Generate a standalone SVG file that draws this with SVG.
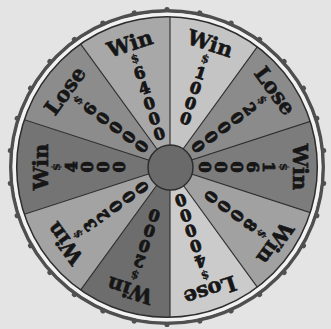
<svg xmlns="http://www.w3.org/2000/svg" xmlns:xlink="http://www.w3.org/1999/xlink" width="331" height="329" viewBox="0 0 331 329">
<defs>
<style>
.lbl{font-family:"DejaVu Serif","Liberation Serif",serif;font-weight:bold;fill:#161616;stroke:#161616;stroke-width:0.6;text-anchor:middle}
.w{font-size:21px}
.d{font-size:11.5px;stroke-width:0.3}
.n{font-size:16px;stroke-width:0.9}
.sep{stroke:#2a2a2a;stroke-width:1.1}
</style>
<clipPath id="face"><circle cx="167" cy="167" r="150.5"/></clipPath>
<path id="wedge" d="M170 167 L117.47 5.32 A170 170 0 0 1 222.53 5.32 Z"/>
<circle id="peg" cx="167" cy="9.5" r="2.6" fill="#505050"/>
</defs>
<rect width="331" height="329" fill="#e4e4e4"/>
<g id="rim">
<circle cx="167" cy="167" r="156.3" fill="none" stroke="#4f4f4f" stroke-width="3.4"/>
<use xlink:href="#peg"/><use xlink:href="#peg" transform="rotate(12 167 167)"/><use xlink:href="#peg" transform="rotate(24 167 167)"/><use xlink:href="#peg" transform="rotate(36 167 167)"/><use xlink:href="#peg" transform="rotate(48 167 167)"/><use xlink:href="#peg" transform="rotate(60 167 167)"/><use xlink:href="#peg" transform="rotate(72 167 167)"/><use xlink:href="#peg" transform="rotate(84 167 167)"/><use xlink:href="#peg" transform="rotate(96 167 167)"/><use xlink:href="#peg" transform="rotate(108 167 167)"/><use xlink:href="#peg" transform="rotate(120 167 167)"/><use xlink:href="#peg" transform="rotate(132 167 167)"/><use xlink:href="#peg" transform="rotate(144 167 167)"/><use xlink:href="#peg" transform="rotate(156 167 167)"/><use xlink:href="#peg" transform="rotate(168 167 167)"/><use xlink:href="#peg" transform="rotate(180 167 167)"/><use xlink:href="#peg" transform="rotate(192 167 167)"/><use xlink:href="#peg" transform="rotate(204 167 167)"/><use xlink:href="#peg" transform="rotate(216 167 167)"/><use xlink:href="#peg" transform="rotate(228 167 167)"/><use xlink:href="#peg" transform="rotate(240 167 167)"/><use xlink:href="#peg" transform="rotate(252 167 167)"/><use xlink:href="#peg" transform="rotate(264 167 167)"/><use xlink:href="#peg" transform="rotate(276 167 167)"/><use xlink:href="#peg" transform="rotate(288 167 167)"/><use xlink:href="#peg" transform="rotate(300 167 167)"/><use xlink:href="#peg" transform="rotate(312 167 167)"/><use xlink:href="#peg" transform="rotate(324 167 167)"/><use xlink:href="#peg" transform="rotate(336 167 167)"/><use xlink:href="#peg" transform="rotate(348 167 167)"/>
<circle cx="167" cy="167" r="152.5" fill="none" stroke="#f2f2f2" stroke-width="3.6"/>
</g>
<g clip-path="url(#face)">
<use id="seg-win-1000" xlink:href="#wedge" transform="rotate(18 170 167)" fill="#c4c4c4"/>
<use id="seg-lose-20000" xlink:href="#wedge" transform="rotate(54 170 167)" fill="#8b8b8b"/>
<use id="seg-win-16000" xlink:href="#wedge" transform="rotate(90 170 167)" fill="#7c7c7c"/>
<use id="seg-win-8000" xlink:href="#wedge" transform="rotate(126 170 167)" fill="#a1a1a1"/>
<use id="seg-lose-40000" xlink:href="#wedge" transform="rotate(162 170 167)" fill="#cbcbcb"/>
<use id="seg-win-2000" xlink:href="#wedge" transform="rotate(198 170 167)" fill="#6d6d6d"/>
<use id="seg-win-32000" xlink:href="#wedge" transform="rotate(234 170 167)" fill="#a3a3a3"/>
<use id="seg-win-4000" xlink:href="#wedge" transform="rotate(270 170 167)" fill="#747474"/>
<use id="seg-lose-60000" xlink:href="#wedge" transform="rotate(306 170 167)" fill="#8c8c8c"/>
<use id="seg-win-64000" xlink:href="#wedge" transform="rotate(342 170 167)" fill="#a8a8a8"/>
<g id="dividers" class="sep">
<line x1="170" y1="167" x2="170" y2="0"/>
<line x1="170" y1="167" x2="170" y2="0" transform="rotate(36 170 167)"/>
<line x1="170" y1="167" x2="170" y2="0" transform="rotate(72 170 167)"/>
<line x1="170" y1="167" x2="170" y2="0" transform="rotate(108 170 167)"/>
<line x1="170" y1="167" x2="170" y2="0" transform="rotate(144 170 167)"/>
<line x1="170" y1="167" x2="170" y2="0" transform="rotate(180 170 167)"/>
<line x1="170" y1="167" x2="170" y2="0" transform="rotate(216 170 167)"/>
<line x1="170" y1="167" x2="170" y2="0" transform="rotate(252 170 167)"/>
<line x1="170" y1="167" x2="170" y2="0" transform="rotate(288 170 167)"/>
<line x1="170" y1="167" x2="170" y2="0" transform="rotate(324 170 167)"/>
</g>
</g>
<circle cx="167" cy="167" r="150.3" fill="none" stroke="#2e2e2e" stroke-width="1.5"/>
<g class="lbl">
<g id="label-win-1000" transform="rotate(18 170 167)"><text class="w" x="170" y="44.5">Win</text><text class="d" x="170" y="57">$</text><text class="n"><tspan x="170" y="73.8">1</tspan><tspan x="170" y="89.8">0</tspan><tspan x="170" y="105.8">0</tspan><tspan x="170" y="121.8">0</tspan></text></g>
<g id="label-lose-20000" transform="rotate(54 170 167)"><text class="w" x="170" y="44.5">Lose</text><text class="d" x="170" y="57">$</text><text class="n"><tspan x="170" y="73.8">2</tspan><tspan x="170" y="89.8">0</tspan><tspan x="170" y="105.8">0</tspan><tspan x="170" y="121.8">0</tspan><tspan x="170" y="137.8">0</tspan></text></g>
<g id="label-win-16000" transform="rotate(90 170 167)"><text class="w" x="170" y="44.5">Win</text><text class="d" x="170" y="57">$</text><text class="n"><tspan x="170" y="73.8">1</tspan><tspan x="170" y="89.8">6</tspan><tspan x="170" y="105.8">0</tspan><tspan x="170" y="121.8">0</tspan><tspan x="170" y="137.8">0</tspan></text></g>
<g id="label-win-8000" transform="rotate(126 170 167)"><text class="w" x="170" y="44.5">Win</text><text class="d" x="170" y="57">$</text><text class="n"><tspan x="170" y="73.8">8</tspan><tspan x="170" y="89.8">0</tspan><tspan x="170" y="105.8">0</tspan><tspan x="170" y="121.8">0</tspan></text></g>
<g id="label-lose-40000" transform="rotate(162 170 167)"><text class="w" x="170" y="44.5">Lose</text><text class="d" x="170" y="57">$</text><text class="n"><tspan x="170" y="73.8">4</tspan><tspan x="170" y="89.8">0</tspan><tspan x="170" y="105.8">0</tspan><tspan x="170" y="121.8">0</tspan><tspan x="170" y="137.8">0</tspan></text></g>
<g id="label-win-2000" transform="rotate(198 170 167)"><text class="w" x="170" y="44.5">Win</text><text class="d" x="170" y="57">$</text><text class="n"><tspan x="170" y="73.8">2</tspan><tspan x="170" y="89.8">0</tspan><tspan x="170" y="105.8">0</tspan><tspan x="170" y="121.8">0</tspan></text></g>
<g id="label-win-32000" transform="rotate(234 170 167)"><text class="w" x="170" y="44.5">Win</text><text class="d" x="170" y="57">$</text><text class="n"><tspan x="170" y="73.8">3</tspan><tspan x="170" y="89.8">2</tspan><tspan x="170" y="105.8">0</tspan><tspan x="170" y="121.8">0</tspan><tspan x="170" y="137.8">0</tspan></text></g>
<g id="label-win-4000" transform="rotate(270 170 167)"><text class="w" x="170" y="44.5">Win</text><text class="d" x="170" y="57">$</text><text class="n"><tspan x="170" y="73.8">4</tspan><tspan x="170" y="89.8">0</tspan><tspan x="170" y="105.8">0</tspan><tspan x="170" y="121.8">0</tspan></text></g>
<g id="label-lose-60000" transform="rotate(306 170 167)"><text class="w" x="170" y="44.5">Lose</text><text class="d" x="170" y="57">$</text><text class="n"><tspan x="170" y="73.8">6</tspan><tspan x="170" y="89.8">0</tspan><tspan x="170" y="105.8">0</tspan><tspan x="170" y="121.8">0</tspan><tspan x="170" y="137.8">0</tspan></text></g>
<g id="label-win-64000" transform="rotate(342 170 167)"><text class="w" x="170" y="44.5">Win</text><text class="d" x="170" y="57">$</text><text class="n"><tspan x="170" y="73.8">6</tspan><tspan x="170" y="89.8">4</tspan><tspan x="170" y="105.8">0</tspan><tspan x="170" y="121.8">0</tspan><tspan x="170" y="137.8">0</tspan></text></g>
</g>
<g id="hub"><circle cx="170.5" cy="167.5" r="22.5" fill="#6a6a6a" stroke="#2e2e2e" stroke-width="1.5"/></g>
</svg>
